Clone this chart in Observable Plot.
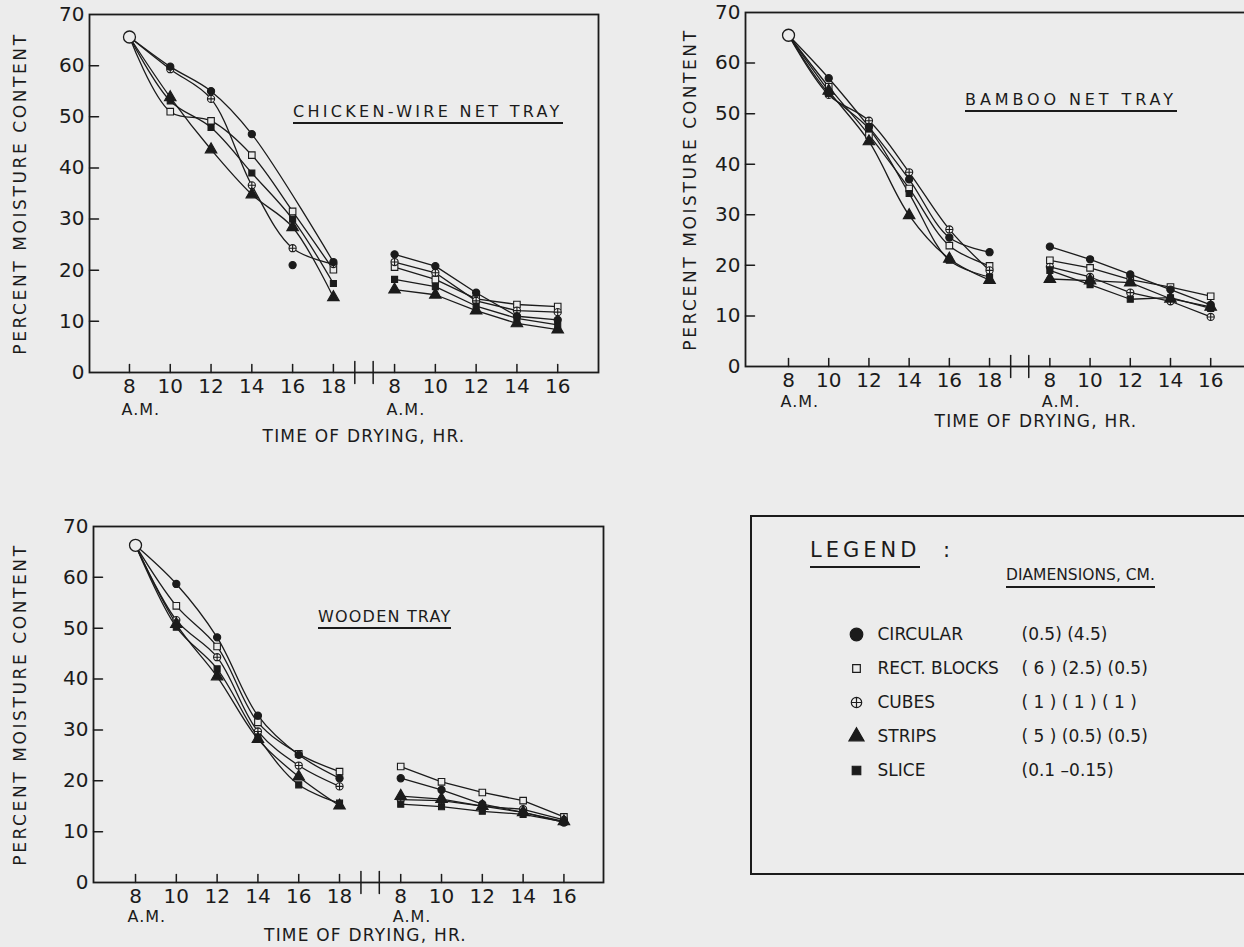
<!DOCTYPE html>
<html>
<head>
<meta charset="utf-8">
<script src="https://cdn.jsdelivr.net/npm/d3@7"></script>
<script src="https://cdn.jsdelivr.net/npm/@observablehq/plot@0.6"></script>
<style>
  html, body { margin: 0; padding: 0; background: #ececec; overflow: hidden; }
  #page { position: relative; width: 1244px; height: 947px; overflow: hidden; background: #ececec;
          font-family: "DejaVu Sans", Verdana, sans-serif; color: #1b1b1b; }
  .panel { position: absolute; }
  .title { position: absolute; font-size: 16px; line-height: 1; white-space: nowrap;
           border-bottom: 2px solid #1b1b1b; padding-bottom: 2px; }
  #legendBox { position: absolute; left: 750px; top: 515px; width: 520px; height: 360px;
               border: 2px solid #1b1b1b; box-sizing: border-box; }
  .ltxt { position: absolute; line-height: 1; white-space: nowrap; }
</style>
</head>
<body>
<div id="page"></div>
<script>
// ---------------- data ----------------
const seriesNames = ["CIRCULAR", "RECT. BLOCKS", "CUBES", "STRIPS", "SLICE"];
const seriesDims  = ["(0.5) (4.5)", "( 6 ) (2.5) (0.5)", "( 1 ) ( 1 ) ( 1 )", "( 5 ) (0.5) (0.5)", "(0.1 \u20130.15)"];

const startHour = 8;                     // first reading, 8 A.M. day 1
const hoursDay1 = [10, 12, 14, 16, 18];  // readings, day 1
const hoursDay2 = [8, 10, 12, 14, 16];   // readings, day 2
const day2Shift = 13;                    // place of day 2 on the shared time axis
const xTickHoursDay1 = [8, 10, 12, 14, 16, 18];
const xTickHoursDay2 = [8, 10, 12, 14, 16];
const breakHours = [19.05, 19.95];       // axis break marks between the days
const yTicks = [0, 10, 20, 30, 40, 50, 60, 70];

// Chicken-wire net tray (rows: circular, rect. blocks, cubes, strips, slice)
const chickenStart = 65.6;
const chickenDay1 = [
  [59.8, 55.0, 46.6, 21.0, 21.6],
  [51.0, 49.2, 42.5, 31.5, 20.1],
  [59.3, 53.5, 36.6, 24.3, 21.2],
  [53.8, 43.6, 34.8, 28.4, 14.7],
  [53.1, 47.9, 39.0, 30.0, 17.4]
];
const chickenDay2 = [
  [23.1, 20.8, 15.6, 11.0, 10.3],
  [20.6, 18.2, 14.4, 13.3, 12.9],
  [21.6, 19.5, 14.0, 12.1, 11.8],
  [16.2, 15.2, 12.1, 9.6, 8.4],
  [18.2, 16.8, 13.0, 10.6, 9.3]
];
const chickenOffCurve = [[0, 16]];  // [series index, hour] plotted but not on the fitted curve

// Bamboo net tray
const bambooStart = 65.5;
const bambooDay1 = [
  [57.0, 47.4, 37.0, 25.5, 22.6],
  [55.3, 45.8, 35.2, 23.9, 19.9],
  [53.7, 48.6, 38.4, 27.1, 19.0],
  [54.5, 44.5, 29.9, 21.3, 17.1],
  [54.0, 47.0, 34.2, 21.0, 17.7]
];
const bambooDay2 = [
  [23.7, 21.2, 18.2, 15.2, 12.2],
  [21.0, 19.5, 17.2, 15.7, 13.9],
  [19.7, 17.7, 14.6, 12.9, 9.8],
  [17.3, 17.0, 16.6, 13.4, 11.8],
  [19.0, 16.2, 13.3, 13.6, 11.5]
];
const bambooOffCurve = [];

// Wooden tray
const woodenStart = 66.3;
const woodenDay1 = [
  [58.7, 48.2, 32.8, 25.1, 20.5],
  [54.4, 46.4, 31.5, 25.3, 21.8],
  [51.6, 44.3, 29.7, 23.0, 18.9],
  [50.8, 40.5, 28.2, 20.8, 15.1],
  [50.2, 42.0, 28.6, 19.2, 15.6]
];
const woodenDay2 = [
  [20.5, 18.2, 15.4, 13.8, 11.8],
  [22.8, 19.8, 17.7, 16.1, 12.9],
  [16.3, 16.1, 15.0, 14.4, 12.3],
  [17.0, 16.4, 15.0, 13.8, 12.0],
  [15.4, 14.9, 14.0, 13.4, 11.9]
];
const woodenOffCurve = [];

// ---------------- styling ----------------
const ink = "#1b1b1b";
const paper = "#ececec";
const fontFamily = "DejaVu Sans, Verdana, sans-serif";

const circlePlus = {
  draw(context, size) {
    const r = Math.sqrt(size / Math.PI);
    context.moveTo(r, 0);
    context.arc(0, 0, r, 0, 2 * Math.PI);
    context.moveTo(-r, 0); context.lineTo(r, 0);
    context.moveTo(0, -r); context.lineTo(0, r);
  }
};
const tickShape = { draw(context, l) { context.moveTo(0, 0); context.lineTo(0, -l); } };

const markerStyles = [
  {symbol: "circle", r: 3.6, fill: ink},
  {symbol: "square", r: 3.7, fill: paper},
  {symbol: circlePlus, r: 3.6, fill: paper},
  {symbol: "triangle", r: 4.3, fill: ink},
  {symbol: "square", r: 3.4, fill: ink}
];
const legendStyles = [
  {symbol: "circle", r: 6.3, fill: ink},
  {symbol: "square", r: 4.3, fill: paper},
  {symbol: circlePlus, r: 5.2, fill: paper},
  {symbol: "triangle", r: 5.6, fill: ink},
  {symbol: "square", r: 4.8, fill: ink}
];
const drawOrder = [1, 2, 3, 4, 0];

const xTickPositions = [...xTickHoursDay1, ...xTickHoursDay2.map(h => h + day2Shift)];
const xTickLabels = new Map(xTickPositions.map((p, i) =>
  [p, String(i < xTickHoursDay1.length ? xTickHoursDay1[i] : xTickHoursDay2[i - xTickHoursDay1.length])]));

function spaceText(svg, content, spacing) {
  d3.select(svg).selectAll("text").filter(function () { return this.textContent === content; })
    .attr("letter-spacing", spacing);
}

function makePanel(cfg) {
  const rows = [];
  seriesNames.forEach((name, s) => {
    rows.push({series: name, s, part: 1, x: startHour, y: cfg.start, marker: false, onCurve: true});
    hoursDay1.forEach((h, i) => rows.push({
      series: name, s, part: 1, x: h, y: cfg.day1[s][i], marker: true,
      onCurve: !cfg.offCurve.some(([si, hh]) => si === s && hh === h)
    }));
    hoursDay2.forEach((h, i) => rows.push({
      series: name, s, part: 2, x: h + day2Shift, y: cfg.day2[s][i], marker: true, onCurve: true
    }));
  });
  const curveRows = rows.filter(d => d.onCurve);
  const markerRows = rows.filter(d => d.marker);

  const marks = [
    Plot.frame({stroke: ink, strokeWidth: 1.8}),
    Plot.line(curveRows.filter(d => d.part === 1), {x: "x", y: "y", z: "series", curve: "catmull-rom", stroke: ink, strokeWidth: 1.3}),
    Plot.line(curveRows.filter(d => d.part === 2), {x: "x", y: "y", z: "series", stroke: ink, strokeWidth: 1.3}),
    ...drawOrder.map(s => Plot.dot(markerRows.filter(d => d.s === s), {
      x: "x", y: "y", symbol: markerStyles[s].symbol, r: markerStyles[s].r,
      fill: markerStyles[s].fill, stroke: ink, strokeWidth: 1.1
    })),
    Plot.dot([{x: startHour, y: cfg.start}], {x: "x", y: "y", r: 6, fill: paper, stroke: ink, strokeWidth: 1.3}),
    // axes
    Plot.axisY(yTicks, {tickSize: 0, tickPadding: 5, fontSize: 20, label: null}),
    Plot.vector(yTicks.filter(v => v > 0 && v < 70), {y: d => d, frameAnchor: "left", rotate: 90, length: 9, anchor: "start", shape: tickShape, stroke: ink, strokeWidth: 1.5}),
    Plot.axisX(xTickPositions, {tickSize: 0, tickPadding: 6, fontSize: 20, label: null, tickFormat: d => xTickLabels.get(d)}),
    Plot.vector(xTickPositions, {x: d => d, frameAnchor: "bottom", rotate: 0, length: 8, anchor: "start", shape: tickShape, stroke: ink, strokeWidth: 1.5}),
    Plot.vector(breakHours, {x: d => d, frameAnchor: "bottom", rotate: 0, length: 22, anchor: "middle", shape: tickShape, stroke: ink, strokeWidth: 1.5}),
    Plot.text([startHour, startHour + day2Shift], {x: d => d, frameAnchor: "bottom", dy: cfg.amDy, dx: -8, textAnchor: "start", lineAnchor: "middle", text: () => "A.M.", fontSize: 16, fill: ink}),
    Plot.text(["TIME OF DRYING, HR."], {frameAnchor: "bottom", dy: cfg.xLabelDy, dx: cfg.xLabelDx, textAnchor: "middle", lineAnchor: "middle", text: d => d, fontSize: 17, fill: ink}),
    Plot.text(["PERCENT MOISTURE CONTENT"], {frameAnchor: "left", dx: cfg.yLabelDx, rotate: -90, textAnchor: "middle", lineAnchor: "middle", text: d => d, fontSize: 17, fill: ink})
  ];

  const svg = Plot.plot({
    width: cfg.width, height: cfg.height,
    marginLeft: cfg.ml, marginRight: cfg.mr, marginTop: cfg.mt, marginBottom: cfg.mb,
    x: {domain: cfg.xDomain},
    y: {domain: [0, 70]},
    style: {background: "none", color: ink, fontFamily, maxWidth: "none", overflow: "visible"},
    marks
  });
  spaceText(svg, "PERCENT MOISTURE CONTENT", 2.6);
  spaceText(svg, "TIME OF DRYING, HR.", 1.2);
  spaceText(svg, "A.M.", 1);
  const div = document.createElement("div");
  div.className = "panel";
  div.style.left = cfg.left + "px";
  div.style.top = cfg.top + "px";
  div.style.width = cfg.width + "px";
  div.appendChild(svg);
  document.getElementById("page").appendChild(div);
}

makePanel({start: chickenStart, day1: chickenDay1, day2: chickenDay2, offCurve: chickenOffCurve,
  left: 0, top: 0, width: 620, height: 450, ml: 89, mr: 22, mt: 14, mb: 78,
  xDomain: [6.04, 31.0], amDy: 37, xLabelDy: 64, xLabelDx: 20, yLabelDx: -69});
makePanel({start: bambooStart, day1: bambooDay1, day2: bambooDay2, offCurve: bambooOffCurve,
  left: 640, top: 0, width: 640, height: 440, ml: 105, mr: 30, mt: 12, mb: 74,
  xDomain: [5.86, 30.98], amDy: 35, xLabelDy: 55, xLabelDx: 38, yLabelDx: -55});
makePanel({start: woodenStart, day1: woodenDay1, day2: woodenDay2, offCurve: woodenOffCurve,
  left: 0, top: 500, width: 620, height: 447, ml: 93, mr: 17, mt: 26, mb: 65,
  xDomain: [5.94, 30.94], amDy: 34, xLabelDy: 53, xLabelDx: 17, yLabelDx: -73});

// ---------------- panel titles ----------------
const page = document.getElementById("page");
function addDiv(cls, text, css) {
  const d = document.createElement("div");
  d.className = cls;
  d.textContent = text;
  Object.assign(d.style, css);
  page.appendChild(d);
  return d;
}
addDiv("title", "CHICKEN-WIRE NET TRAY", {left: "293px", top: "104px", letterSpacing: "3.3px"});
addDiv("title", "BAMBOO NET TRAY", {left: "965px", top: "92px", letterSpacing: "3.9px"});
addDiv("title", "WOODEN TRAY", {left: "318px", top: "609px", letterSpacing: "1.2px"});

// ---------------- legend ----------------
const box = document.createElement("div");
box.id = "legendBox";
page.appendChild(box);
addDiv("ltxt", "LEGEND", {left: "810px", top: "540px", fontSize: "21px", letterSpacing: "4px",
  borderBottom: "2px solid " + ink, paddingBottom: "5px"});
addDiv("ltxt", ":", {left: "943px", top: "540px", fontSize: "21px"});
addDiv("ltxt", "DIAMENSIONS, CM.", {left: "1006px", top: "568px", fontSize: "15.5px",
  borderBottom: "2px solid " + ink, paddingBottom: "2px"});

const legendSvg = Plot.plot({
  width: 496, height: 356, margin: 0,
  x: {domain: [0, 1], axis: null},
  y: {type: "point", domain: seriesNames, range: [100, 270], axis: null},
  style: {background: "none", color: ink, fontFamily, maxWidth: "none"},
  marks: [
    ...seriesNames.map((name, s) => Plot.dot([name], {
      y: d => d, frameAnchor: "left", dx: 104, symbol: legendStyles[s].symbol, r: legendStyles[s].r,
      fill: legendStyles[s].fill, stroke: ink, strokeWidth: 1.2
    })),
    Plot.text(seriesNames, {y: d => d, frameAnchor: "left", dx: 125, text: d => d, textAnchor: "start", fontSize: 17, fill: ink}),
    Plot.text(seriesDims, {y: (d, i) => seriesNames[i], frameAnchor: "left", dx: 269, text: d => d, textAnchor: "start", fontSize: 17, fill: ink})
  ]
});
legendSvg.style.position = "absolute";
legendSvg.style.left = "0px";
legendSvg.style.top = "0px";
box.appendChild(legendSvg);
</script>
</body>
</html>
